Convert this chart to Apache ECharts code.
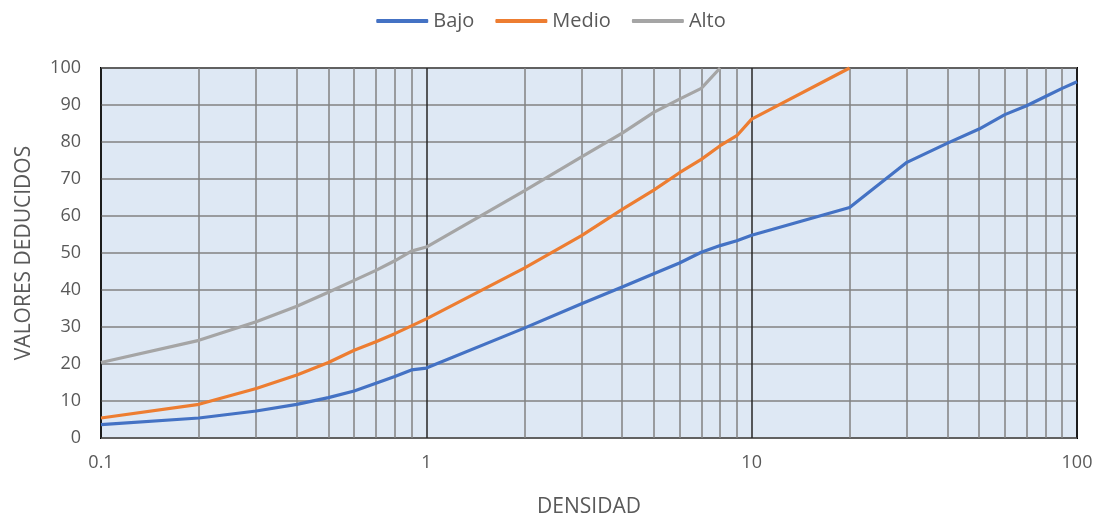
<!DOCTYPE html>
<html>
<head>
<meta charset="utf-8">
<script src="https://cdn.jsdelivr.net/npm/echarts@6/dist/echarts.min.js"></script>
<style>
  html, body { margin: 0; padding: 0; background: #fff; }
  #chart { width: 1102px; height: 523px; }
</style>
</head>
<body>
<div id="chart"></div>
<script>
// Densidad (log scale) sample points for each curve
const densBajo = [0.1, 0.2, 0.3, 0.4, 0.5, 0.6, 0.7, 0.8, 0.9, 1, 2, 3, 4, 5, 6, 7, 8, 9, 10, 20, 30, 40, 50, 60, 70, 80, 90, 100];
const valBajo  = [3.6, 5.4, 7.3, 9.1, 10.9, 12.7, 14.8, 16.6, 18.4, 18.9, 29.7, 36.3, 40.8, 44.4, 47.3, 50.2, 52, 53.3, 54.8, 62.3, 74.5, 79.7, 83.5, 87.4, 89.8, 92.3, 94.5, 96.3];

const densMedio = [0.1, 0.2, 0.3, 0.4, 0.5, 0.6, 0.7, 0.8, 0.9, 1, 2, 3, 4, 5, 6, 7, 8, 9, 10, 20];
const valMedio  = [5.4, 9.1, 13.4, 17, 20.4, 23.7, 26, 28.2, 30.3, 32.2, 45.9, 54.7, 61.8, 67, 71.7, 75.3, 79, 81.7, 86.2, 100];

const densAlto = [0.1, 0.2, 0.3, 0.4, 0.5, 0.6, 0.7, 0.8, 0.9, 1, 2, 3, 4, 5, 6, 7, 8];
const valAlto  = [20.4, 26.4, 31.4, 35.6, 39.4, 42.6, 45.3, 47.9, 50.5, 51.6, 66.8, 76, 82.4, 88, 91.6, 94.5, 100];

// Intermediate log gridlines (2..9 within each decade)
const minorGrid = [0.2, 0.3, 0.4, 0.5, 0.6, 0.7, 0.8, 0.9, 2, 3, 4, 5, 6, 7, 8, 9, 20, 30, 40, 50, 60, 70, 80, 90];

const seriesNames = ['Bajo', 'Medio', 'Alto'];
const seriesColors = ['#4472C4', '#ED7D31', '#A5A5A5'];

const FONT = '"Open Sans", sans-serif';
const TEXT = '#595959';

function pairs(xs, ys) { return xs.map((x, i) => [x, ys[i]]); }

const chart = echarts.init(document.getElementById('chart'), null, { renderer: 'canvas' });

const lineSeries = [
  pairs(densBajo, valBajo),
  pairs(densMedio, valMedio),
  pairs(densAlto, valAlto)
].map((data, i) => ({
  name: seriesNames[i],
  type: 'line',
  data: data,
  symbol: 'none',
  smooth: false,
  z: 5,
  lineStyle: { color: seriesColors[i], width: 3.2 },
  itemStyle: { color: seriesColors[i] }
}));

chart.setOption({
  animation: false,
  textStyle: { fontFamily: FONT },
  legend: {
    data: seriesNames,
    top: 6,
    left: 'center',
    icon: 'roundRect',
    itemWidth: 52,
    itemHeight: 4,
    itemGap: 21,
    textStyle: { color: TEXT, fontSize: 20, fontFamily: FONT }
  },
  grid: {
    left: 101, right: 25, top: 68, bottom: 83,
    show: true,
    backgroundColor: '#DEE8F4',
    borderColor: '#000',
    borderWidth: 2
  },
  xAxis: {
    type: 'log',
    logBase: 10,
    min: 0.1,
    max: 100,
    name: 'DENSIDAD',
    nameLocation: 'middle',
    nameGap: 59,
    nameTextStyle: { color: TEXT, fontSize: 21, fontFamily: FONT },
    axisLine: { show: false },
    axisTick: { show: false },
    axisLabel: {
      color: TEXT, fontSize: 18, margin: 16, fontFamily: FONT,
      formatter: v => (v < 1 ? v.toFixed(1) : String(Math.round(v)))
    },
    splitLine: { show: true, lineStyle: { color: '#262626', width: 1.5 } }
  },
  yAxis: {
    type: 'value',
    min: 0,
    max: 100,
    interval: 10,
    name: 'VALORES DEDUCIDOS',
    nameLocation: 'middle',
    nameGap: 66,
    nameTextStyle: { color: TEXT, fontSize: 21, fontFamily: FONT },
    axisLine: { show: false },
    axisTick: { show: false },
    axisLabel: { color: TEXT, fontSize: 18, margin: 20, fontFamily: FONT },
    splitLine: { show: true, lineStyle: { color: '#828282', width: 1.5 } }
  },
  series: [
    {
      name: 'grid-minor',
      type: 'line',
      data: [],
      z: 1,
      silent: true,
      markLine: {
        silent: true,
        symbol: 'none',
        animation: false,
        label: { show: false },
        lineStyle: { color: '#828282', width: 1.5, type: 'solid' },
        emphasis: { disabled: true },
        data: minorGrid.map(v => ({ xAxis: v }))
      }
    }
  ].concat(lineSeries)
});
</script>
</body>
</html>
